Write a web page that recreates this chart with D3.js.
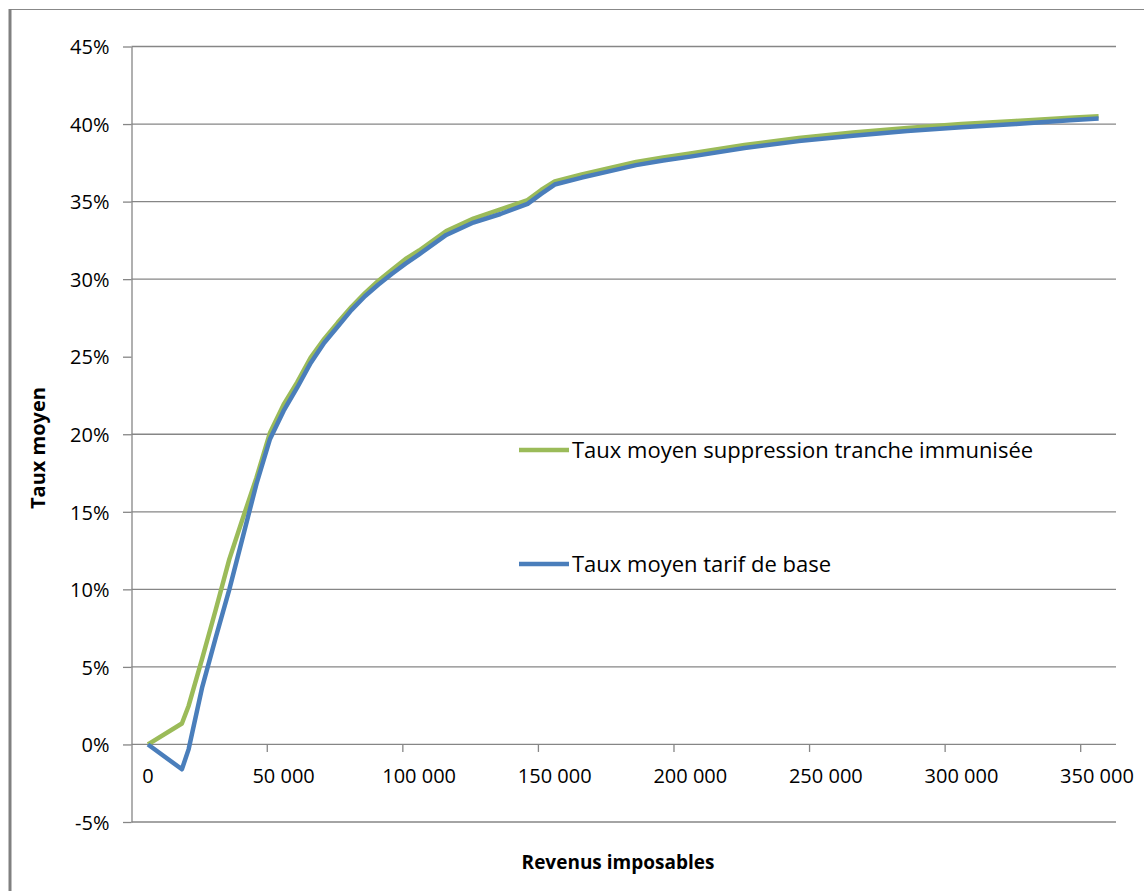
<!DOCTYPE html>
<html>
<head>
<meta charset="utf-8">
<script src="https://cdn.jsdelivr.net/npm/d3@7"></script>
<style>
  html, body { margin: 0; padding: 0; background: #fff; }
  svg { display: block; }
  text { font-family: "Open Sans", Lato, sans-serif; fill: #000; }
</style>
</head>
<body>
<svg id="chart" width="1144" height="891"></svg>
<script>
// ---- data ----
const revenus = [0, 12500, 15000, 20000, 25000, 30000, 35000, 40000, 45000, 50000,
  55000, 60000, 65000, 70000, 75000, 80000, 85000, 90000, 95000, 100000,
  110000, 120000, 130000, 140000, 145000, 150000, 160000, 170000, 180000, 190000,
  200000, 220000, 240000, 260000, 280000, 300000, 320000, 340000, 350600];

const tauxSuppression = [0, 1.35, 2.5, 5.55, 8.7, 11.95, 14.6, 17.2, 20.1, 21.9,
  23.35, 24.95, 26.15, 27.2, 28.2, 29.1, 29.9, 30.6, 31.3, 31.85,
  33.1, 33.9, 34.5, 35.1, 35.75, 36.3, 36.75, 37.15, 37.55, 37.85,
  38.1, 38.65, 39.1, 39.45, 39.75, 40.0, 40.2, 40.4, 40.5];

const tauxBase = [0, -1.6, -0.3, 3.7, 6.9, 10.0, 13.4, 16.8, 19.7, 21.5,
  23.0, 24.6, 25.9, 26.95, 28.0, 28.9, 29.65, 30.35, 31.0, 31.6,
  32.85, 33.65, 34.2, 34.85, 35.5, 36.1, 36.55, 36.95, 37.35, 37.65,
  37.9, 38.45, 38.9, 39.25, 39.55, 39.8, 40.0, 40.25, 40.35];

const seriesNames = ["Taux moyen suppression tranche immunisée", "Taux moyen tarif de base"];
const seriesColors = ["#9BBB59", "#4A7EBB"];

const yTicks = [-5, 0, 5, 10, 15, 20, 25, 30, 35, 40, 45];
const yGridTicks = [-5, 0, 5, 10, 15, 20, 30, 35, 40, 45];
const xTicks = [0, 50000, 100000, 150000, 200000, 250000, 300000, 350000];
const xTickLabels = ["0", "50 000", "100 000", "150 000", "200 000", "250 000", "300 000", "350 000"];

const yTitle = "Taux moyen";
const xTitle = "Revenus imposables";

// ---- layout ----
const svg = d3.select("#chart");
const plotLeft = 131.5, plotRight = 1116, plotTop = 46.5, plotBottom = 822;

const x = d3.scaleLinear().domain([0, 350000]).range([148, 1097]);
const y = d3.scaleLinear().domain([-5, 45]).range([plotBottom, plotTop]);
const tickOffset = -16.3;
const gridColor = "#868686";

// outer frame
svg.append("line").attr("x1", 10).attr("x2", 1144).attr("y1", 9.5).attr("y2", 9.5)
  .attr("stroke", "#888").attr("stroke-width", 1.2);
svg.append("line").attr("x1", 10).attr("x2", 10).attr("y1", 9).attr("y2", 891)
  .attr("stroke", "#808080").attr("stroke-width", 3);

// gridlines
svg.append("g").selectAll("line").data(yGridTicks).join("line")
  .attr("x1", plotLeft).attr("x2", plotRight)
  .attr("y1", d => y(d)).attr("y2", d => y(d))
  .attr("stroke", gridColor).attr("stroke-width", 1.3);

// y axis
const yAxis = d3.axisLeft(y).tickValues(yTicks).tickSize(8.5).tickSizeOuter(0)
  .tickFormat(d => d + "%");
const gy = svg.append("g").attr("transform", `translate(${plotLeft},0)`).call(yAxis);
gy.select(".domain").attr("stroke", gridColor).attr("stroke-width", 1.3);
gy.selectAll(".tick line").attr("stroke", gridColor).attr("stroke-width", 1.3);
gy.selectAll(".tick text").attr("x", -22).attr("font-size", 20)
  .attr("fill", "#111").attr("dy", "0.36em");

// x axis along 0%
const g0 = svg.append("g").attr("transform", `translate(0,${y(0)})`);
g0.selectAll("line.xt").data(xTicks.slice(1)).join("line").attr("class", "xt")
  .attr("x1", d => x(d) + tickOffset).attr("x2", d => x(d) + tickOffset)
  .attr("y1", 0).attr("y2", 7.5).attr("stroke", gridColor).attr("stroke-width", 1.3);
g0.selectAll("text.xl").data(xTicks).join("text").attr("class", "xl")
  .attr("x", d => x(d)).attr("y", 39).attr("text-anchor", "middle")
  .attr("font-size", 20).attr("fill", "#111")
  .text((d, i) => xTickLabels[i]);

// series
const line = d3.line().x(d => x(d[0])).y(d => y(d[1]));
const seriesData = [tauxSuppression, tauxBase];
seriesData.forEach((vals, i) => {
  svg.append("path")
    .datum(revenus.map((r, j) => [r, vals[j]]))
    .attr("fill", "none").attr("stroke", seriesColors[i]).attr("stroke-width", 4.5)
    .attr("stroke-linejoin", "round").attr("stroke-linecap", "butt")
    .attr("d", line);
});

// legend
const legendY = [450, 564];
seriesNames.forEach((name, i) => {
  svg.append("line").attr("x1", 519).attr("x2", 569).attr("y1", legendY[i]).attr("y2", legendY[i])
    .attr("stroke", seriesColors[i]).attr("stroke-width", 4.5);
  svg.append("text").attr("x", 572).attr("y", legendY[i]).attr("dy", "0.36em")
    .attr("font-size", 22).attr("fill", "#111").text(name);
});

// axis titles
svg.append("text").attr("transform", "translate(45,448) rotate(-90)")
  .attr("text-anchor", "middle").attr("font-weight", "bold").attr("font-size", 20)
  .text(yTitle);
svg.append("text").attr("x", 618).attr("y", 869).attr("text-anchor", "middle")
  .attr("font-weight", "bold").attr("font-size", 19).text(xTitle);
</script>
</body>
</html>
